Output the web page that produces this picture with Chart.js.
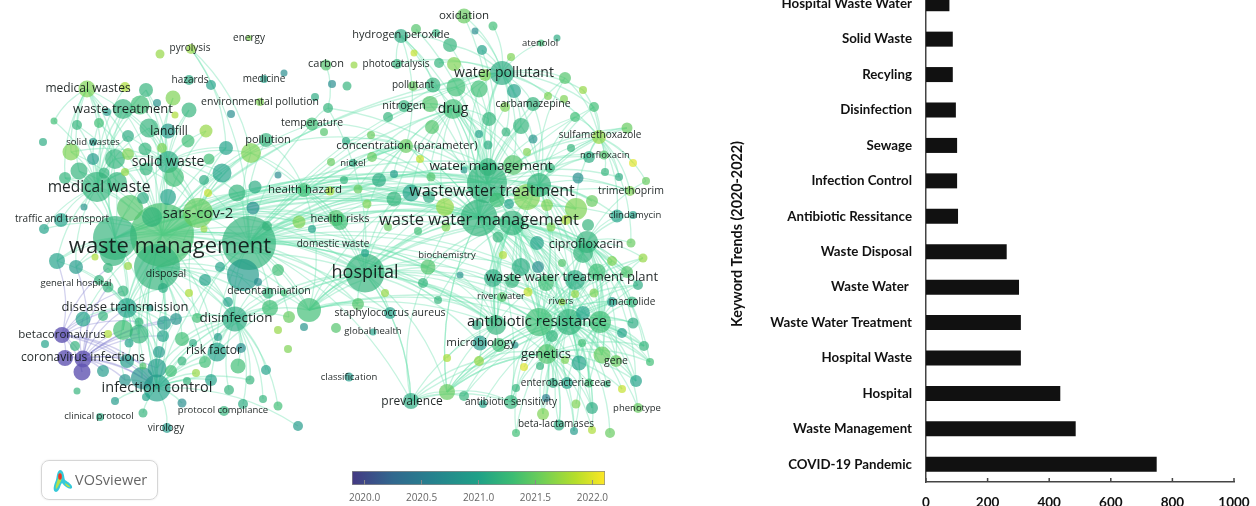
<!DOCTYPE html>
<html>
<head>
<meta charset="utf-8">
<title>Keyword map and keyword trends</title>
<script src="https://cdn.jsdelivr.net/npm/chart.js@4/dist/chart.umd.min.js"></script>
<style>
  html, body { margin: 0; padding: 0; width: 1256px; height: 506px; overflow: hidden; background: #fff; }
  canvas { position: absolute; filter: blur(0.55px); }
  #networkChart { left: 0; top: 0; }
  #scaleChart { left: 340px; top: 460px; }
  #trendChart { left: 720px; top: -30px; }
  #logo {
    position: absolute; left: 41px; top: 460px; width: 115px; height: 38px;
    border: 1px solid #d6d6d6; border-radius: 8px; box-shadow: 0 0 2px #e4e4e4;
    font: 14.5px "Open Sans", sans-serif; color: #666; line-height: 38px; text-indent: 33px;
    filter: blur(0.3px);
  }
  #logo svg { position: absolute; left: 10px; top: 8px; }
</style>
</head>
<body>
<canvas id="networkChart" width="680" height="506"></canvas>
<canvas id="scaleChart" width="280" height="46"></canvas>
<canvas id="trendChart" width="536" height="536"></canvas>
<div id="logo">
  <svg width="22" height="24" viewBox="0 0 22 24">
    <path d="M8 1 C12 1 12 8 13 11 C16 13 21 16 20 19 C18 21 13 18 10 14 C8 16 8 22 4 23 C0 22 2 16 4 11 C5 7 5 2 8 1Z" fill="#36c9d8"/>
    <path d="M8 4 C10 4 10 9 9 12 C7 15 6 19 4 20 C3 18 5 13 6 10 C6 7 7 5 8 4Z M13 14 C15 15 18 17 18 18 C16 19 13 16 13 14Z" fill="#b6e04a"/>
    <ellipse cx="8" cy="7.5" rx="1.8" ry="3.2" fill="#e8312a"/>
  </svg>
  VOSviewer
</div>

<script>
// Bar chart values, top to bottom
const trendLabels = ['Hospital Waste Water', 'Solid Waste', 'Recyling', 'Disinfection', 'Sewage', 'Infection Control',
  'Antibiotic Ressitance', 'Waste Disposal', 'Waste Water ', 'Waste Water Treatment', 'Hospital Waste', 'Hospital',
  'Waste Management', 'COVID-19 Pandemic'];
const trendValues = [76, 87, 87, 97, 101, 101, 104, 262, 302, 308, 308, 436, 486, 749];
const trendTicks = [0, 200, 400, 600, 800, 1000];
const trendAxisTitle = 'Keyword Trends (2020-2022)';

// Colour scale under the map
const scaleTicks = [2020, 2020.5, 2021, 2021.5, 2022];
const scaleMin = 2019.89;
const scaleMax = 2022.11;
const scaleStopYears = [2019.89, 2020.25, 2020.6, 2021, 2021.3, 2021.55, 2021.85, 2022.11];
const scaleStopColours = ['68,57,131', '49,104,142', '38,130,142', '31,161,135', '60,188,115', '110,206,88', '181,222,43', '253,231,37'];
const earlyNodeColour = 'rgba(96,84,178,0.8)';

// Map nodes: [x, y, weight, average year]
const nodesTopLeft = [
  [160,54,4.5,2021.5],[191,49,5,2021.5],[249,38,3,2021.4],[189,80,5,2020.9],[211,85,5,2020.8],[264,79,4,2020.8],
  [284,73,3.5,2020.5],[87,89,8.5,2021.4],[125,87,5,2021.6],[146,90,7,2021],[173,98,7.5,2021.4],[157,103,4,2020.6],
  [123,109,10,2021],[140,105,9.5,2021.1],[107,112,4,2020.7],[189,110,7.5,2021],[175,115,3.5,2021.6],[260,102,4,2021.4],
  [231,114,4,2020.5],[326,65,5.5,2021.2],[332,84,4,2020.5],[315,97,4,2020.9],[328,108,5,2021],[312,124,6.5,2021.1],
  [324,132,4,2021.2],[54,121,3.5,2021.1],[77,125,5,2021],[99,123,5,2021.1],[149,128,9.5,2021],[168,131,7.5,2020.7],
  [206,131,6.5,2021.5],[128,136,6,2020.9],[43,142,4,2020.9],[93,142,4,2020.7],[188,141,6.5,2021.1],[266,140,7,2021],
  [226,148,7,2020.8],[145,149,6.5,2021],[162,148,5,2021.4],[71,152,8.5,2021.4],[93,159,6,2020.7],[115,159,10,2021],
  [128,154,6,2021.4],[251,153,10,2021.4],[168,162,11,2020.9],[209,159,5.5,2021.1],[331,162,4,2021.3],[79,171,8.5,2021],
  [146,169,6.5,2021],[125,172,4,2021.5],[65,178,6,2021],[104,173,5.5,2021],[222,173,9.5,2020.8],[174,177,10,2021.1],
  [204,180,5,2020.9],[278,175,3.5,2020.5],[97,187,15,2021],[117,182,10,2021],[255,187,6.5,2020.9],[237,193,8.5,2021],
  [208,193,4,2021.7],[143,198,6,2020.9],[168,197,8,2020.8],[304,190,7,2021.1],[330,191,4.5,2021.6],[130,208,13,2021.2],
  [84,207,3.5,2020.6],[253,208,6.5,2020.5],[198,213,15,2021.3],[152,217,10,2021],[61,220,7,2020.8],
  [44,229,5,2020.8],[299,222,6.5,2021.4],[336,218,8,2021.2],[312,229,4,2020.8],[204,229,3.5,2021.5],[267,226,5,2021]
];
const nodesTopRight = [
  [464,16,7.5,2021.3],[416,29,5,2021.2],[436,33,4,2021],[401,36,7,2020.9],[475,31,3.5,2020.5],[493,26,4.5,2021.1],
  [450,45,7,2021],[482,50,5,2020.8],[557,38,3.5,2020.9],[541,43,3.5,2021.1],[414,53,3.5,2021.7],[511,57,4,2021.4],
  [354,65,3.5,2021.5],[397,64,5,2021],[439,63,5,2021],[454,64,7,2021.4],[502,73,12,2020.9],[485,75,6,2021.4],
  [565,78,6,2021.2],[514,91,7,2020.8],[583,90,4,2021.5],[347,86,4.5,2021],[433,85,7.5,2021],[413,86,5,2021.3],
  [456,87,9.5,2021.1],[479,89,8.5,2021.1],[548,96,4,2021.4],[564,99,4,2021.4],[430,104,8,2021.2],[404,106,6,2021],
  [453,109,10,2021.1],[533,104,7,2021],[505,107,5,2021.4],[594,107,5,2021.1],[388,117,5,2021],[489,119,7,2021],
  [575,117,5,2021.1],[432,127,7,2021.2],[521,126,8,2021],[627,128,5.5,2021.3],[371,135,4,2021.3],[479,134,4,2020.8],
  [506,132,4.5,2021],[599,137,7,2021.5],[533,139,4.5,2020.6],[346,141,4,2020.9],[406,146,7,2021.3],[488,145,4.5,2020.9],
  [571,148,4,2021],[372,157,5,2021.3],[420,159,4,2021.7],[353,163,4,2020.9],[527,152,4,2021.4],[589,157,6,2020.9],
  [633,163,4,2021.8],[604,155,4.5,2021.2],[513,165,10,2021.2],[488,167,9,2021],[550,168,5,2021],[431,177,4.5,2021.2],
  [464,170,3.5,2020.7],[394,174,4,2020.7],[605,172,4,2021],[619,177,4,2020.9],[578,178,5.5,2020.5],[646,181,4,2021.3],
  [379,180,7,2020.9],[344,180,4,2021],[358,189,4.5,2021.3],[487,183,20,2021],[539,185,12,2021],[630,191,5,2021.4],
  [411,193,8.5,2020.8],[394,199,7.5,2021],[429,197,6,2020.9],[527,197,13,2021.4],[497,200,7.5,2021.1],[592,201,6,2021.3],
  [445,207,9,2021.5],[367,204,4.5,2021.4],[509,204,5,2020.8],[547,205,6,2021.4],[576,209,11,2021.4],[617,216,6.5,2020.8],
  [633,215,4,2020.8],[479,218,18.5,2021],[512,223,12.5,2021],[566,220,5,2021.6],[588,225,6,2021],[388,227,4,2021.3],
  [340,222,8,2021.1],[446,227,4.5,2021.4],[551,227,4.5,2021.4],[418,231,4,2021.1],[498,237,5.5,2021],[537,243,7,2020.8],
  [587,242,11,2021],[631,243,4.5,2021.3]
];
const nodesBottomLeft = [
  [162,235,32,2021.15],[115,238,22,2021],[249,243,27,2021],[157,267,23,2021],[57,261,8,2020.8],[76,267,7,2020.7],
  [95,257,3.5,2021.6],[113,253,13,2021],[128,266,4,2021.5],[108,268,5,2021],[220,267,5,2020.8],[205,280,6,2020.8],
  [278,270,6,2021.1],[243,275,16,2020.7],[258,282,4,2020.5],[108,287,5.5,2021],[99,280,5,2021],[123,291,5.5,2021],
  [163,288,5,2020.9],[189,293,4,2021.6],[228,302,5,2020.8],[268,293,5.5,2021],[284,293,3.5,2021.1],[270,308,8,2021.1],
  [309,310,12,2021.1],[289,317,6,2021.3],[304,327,4,2020.6],[278,330,4,2021.5],[336,328,5,2021.2],[127,308,10,2020.8],
  [83,319,7.5,2020.8],[103,316,5,2021],[150,308,3.5,2020.7],[139,322,4.5,2021],[164,323,7,2020.7],[176,319,6,2020.6],
  [197,318,5,2021.1],[235,319,12.5,2020.9],[62,335,8,2019.9],[123,330,10,2021.1],[139,334,9.5,2021],[108,334,4,2021.6],
  [163,336,6,2020.8],[182,339,7,2021.1],[193,343,4,2020.9],[218,337,4,2020.7],[45,344,4,2020.8],[75,346,5,2021],
  [129,343,4.5,2020.8],[241,348,5,2020.5],[217,352,9.5,2020.8],[159,352,6,2020.7],[182,361,4.5,2021],[205,362,6,2021.1],
  [65,358,8,2019.9],[83,359,8.5,2019.9],[82,372,8.5,2019.95],[127,361,7,2020.7],[143,366,3.5,2021.2],[238,366,7.5,2021.1],
  [103,371,6,2020.7],[157,368,9.5,2020.7],[171,371,6,2021.1],[196,373,4,2021.5],[266,370,5,2020.8],[125,380,6,2020.6],
  [142,378,11,2020.6],[157,388,13.5,2020.8],[187,381,4,2021],[211,380,6,2020.8],[250,380,4.5,2021],[77,391,3.5,2021],
  [229,390,5,2021],[146,397,4,2020.8],[115,401,4,2020.7],[182,403,4.5,2020.5],[243,404,5,2020.9],[263,399,4,2021],
  [278,406,4.5,2021.1],[224,411,5,2021],[143,413,4.5,2021],[100,417,4,2020.9],[167,428,5,2020.7],[298,426,5,2020.7],
  [288,349,4,2021.4]
];
const nodesBottomRight = [
  [365,253,4,2020.8],[365,273,19.5,2021],[428,267,7.5,2021.2],[423,283,5,2021],[460,275,3.5,2020.6],[385,293,4,2021.5],
  [438,300,4,2021],[358,304,6,2021.2],[390,313,6,2020.8],[503,255,4,2021.6],[521,267,9,2020.9],[538,267,6,2020.5],
  [562,263,4,2021.2],[583,253,10,2021],[612,261,5,2021.4],[643,258,4.5,2021.5],[597,272,8.5,2021.1],[627,272,6,2021.2],
  [493,278,9,2020.9],[512,281,7,2021],[546,283,8,2021.1],[575,280,10,2020.9],[638,285,5,2020.9],[528,292,4.5,2021.7],
  [575,294,4,2021.5],[594,293,4.5,2021.4],[502,297,5,2021.2],[562,302,3.5,2021.5],[612,302,5,2020.7],[632,302,5.5,2021],
  [583,313,7,2020.8],[539,322,14,2021.1],[569,322,13,2021],[600,322,11,2021.1],[496,325,10,2021],[477,325,5,2020.9],
  [633,323,5.5,2020.9],[373,332,3.5,2020.8],[622,333,5,2020.8],[552,336,6,2021],[582,343,4,2021.1],[480,343,7.5,2020.7],
  [499,345,7,2021.1],[515,345,3.5,2020.6],[644,346,5,2021],[602,355,8.5,2021.3],[547,354,10,2021.2],[650,362,4,2021.1],
  [579,363,7.5,2020.8],[616,361,6,2021.3],[565,360,4,2021.4],[447,358,4,2021.6],[479,361,5,2021.5],[524,367,4,2021.8],
  [540,366,4,2021],[636,381,6,2020.8],[622,389,4,2021.7],[567,383,6,2020.8],[553,383,5,2020.9],[589,383,4.5,2021.1],
  [607,384,3.5,2021],[516,388,4,2021],[447,392,8,2021.3],[464,396,5,2021],[411,401,8,2020.9],[483,404,4,2020.8],
  [511,402,7,2021],[546,398,4,2020.3],[576,404,4.5,2021.4],[592,408,6,2020.9],[638,408,5,2021.3],[543,414,6,2021.4],
  [559,425,5.5,2020.9],[574,431,4,2020.7],[592,430,4,2021.6],[610,433,5,2021.3],[516,433,4,2021.1],[349,377,4.5,2020.7]
];

// Map links: each group is a hub [x, y, year] and the nodes it reaches
const linksWasteManagement = [[162,235,2021.1], [[87,89],[123,109],[146,90],[173,98],[189,110],[149,128],[206,131],[77,125],[99,123],[71,152],[115,159],[168,162],[251,153],[222,173],[79,171],[65,178],[44,229],[61,220],[57,261],[76,267],[83,319],[127,308],[123,330],[139,334],[235,319],[217,352],[157,388],[299,222],[304,190],[336,218],[340,222],[365,273],[309,310],[270,308],[479,218],[487,183],[539,185],[512,223],[527,197],[411,193],[394,199],[445,207],[428,267],[379,180],[496,325],[539,322],[502,73],[456,87],[266,140],[226,148],[312,124],[358,304],[390,313],[576,209],[513,165]]];
const linksHealthCare = [[249,243,2021.1], [[312,124],[251,153],[266,140],[237,193],[304,190],[336,218],[379,180],[411,193],[479,218],[487,183],[539,185],[527,197],[365,273],[428,267],[309,310],[270,308],[289,317],[235,319],[197,318],[217,352],[157,388],[512,223],[496,325],[569,322],[539,322],[583,253],[445,207],[394,199],[358,304],[438,300],[513,165],[488,167],[406,146],[453,109],[456,87],[502,73],[587,242],[600,322],[521,267],[546,283]]];
const linksHospital = [[365,273,2021.1], [[479,218],[487,183],[512,223],[539,185],[527,197],[411,193],[394,199],[379,180],[428,267],[447,392],[411,401],[496,325],[539,322],[569,322],[600,322],[521,267],[493,278],[480,343],[547,354],[309,310],[235,319],[270,308],[157,388],[217,352],[438,300],[390,313],[358,304],[340,222],[304,190],[251,153]]];
const linksWasteWater = [[479,218,2021.1], [[502,73],[456,87],[479,89],[453,109],[430,104],[489,119],[521,126],[432,127],[533,104],[406,146],[513,165],[488,167],[539,185],[527,197],[445,207],[512,223],[576,209],[599,137],[565,78],[594,107],[589,157],[630,191],[617,216],[587,242],[583,253],[597,272],[627,272],[575,280],[546,283],[521,267],[493,278],[539,322],[569,322],[600,322],[496,325],[547,354],[602,355],[579,363],[447,392],[511,402],[379,180],[340,222],[372,157],[346,141]]];
const linksWastewaterTreatment = [[487,183,2021.1], [[464,16],[416,29],[401,36],[450,45],[482,50],[502,73],[454,64],[433,85],[479,89],[453,109],[505,107],[521,126],[489,119],[506,132],[575,117],[599,137],[627,128],[589,157],[604,155],[619,177],[630,191],[592,201],[576,209],[379,180],[358,189],[336,218],[539,322],[569,322],[583,253],[597,272],[521,267],[575,280],[423,283]]];
const linksWaterPollutant = [[502,73,2021], [[464,16],[493,26],[475,31],[482,50],[450,45],[439,63],[511,57],[541,43],[565,78],[583,90],[514,91],[533,104],[548,96],[479,89],[456,87],[453,109],[521,126],[489,119],[506,132],[599,137],[513,165],[404,106],[397,64],[594,107]]];
const linksAntibiotic = [[569,322,2021.1], [[583,253],[597,272],[627,272],[612,261],[643,258],[638,285],[632,302],[612,302],[633,323],[622,333],[644,346],[650,362],[636,381],[622,389],[602,355],[616,361],[579,363],[567,383],[553,383],[589,383],[607,384],[592,408],[638,408],[559,425],[574,431],[592,430],[610,433],[543,414],[511,402],[516,433],[576,404],[546,398],[483,404],[464,396],[447,392],[479,361],[524,367],[540,366],[546,283],[521,267],[493,278],[587,242],[537,243],[512,281],[575,280]]];
const linksGenetics = [[547,354,2021.2], [[636,381],[622,389],[567,383],[553,383],[589,383],[592,408],[559,425],[574,431],[592,430],[511,402],[543,414],[602,355],[644,346],[650,362],[600,322],[597,272],[612,302],[575,280],[521,267],[479,361],[447,392]]];
const linksSulfa = [[599,137,2021.5], [[627,128],[604,155],[589,157],[633,163],[630,191],[619,177],[605,172],[646,181],[575,117],[594,107],[565,78],[583,90],[539,185],[576,209],[617,216],[631,243]]];
const linksCiprofloxacin = [[587,242,2021], [[633,215],[617,216],[646,181],[631,243],[643,258],[627,272],[612,261],[638,285],[632,302],[633,323],[644,346],[602,355],[616,361],[579,363],[636,381],[650,362],[589,383]]];
const linksCoronavirus = [[83,359,2020.1], [[62,335],[65,358],[82,372],[127,308],[83,319],[103,316],[123,330],[139,334],[127,361],[103,371],[157,368],[142,378],[157,388],[125,380],[76,267],[108,287],[163,336],[176,319],[164,323]]];
const linksBetacoronavirus = [[62,335,2020.1], [[65,358],[82,372],[127,361],[127,308],[83,319],[157,388],[57,261],[108,268],[123,291],[139,322],[143,366]]];
const linksInfectionControl = [[157,388,2020.8], [[167,428],[143,413],[115,401],[146,397],[182,403],[187,381],[125,380],[142,378],[211,380],[196,373],[171,371],[127,361],[159,352],[217,352],[205,362],[235,319],[162,235],[127,308],[298,426],[176,319],[193,343],[250,380]]];
const linksMedicalWaste = [[97,187,2021], [[87,89],[54,121],[77,125],[99,123],[123,109],[140,105],[146,90],[71,152],[115,159],[93,159],[128,136],[149,128],[168,162],[79,171],[65,178],[146,169],[61,220],[44,229],[84,207],[130,208],[115,238],[57,261],[76,267],[125,87]]];
const linksSolidWaste = [[168,162,2021], [[146,90],[173,98],[189,110],[123,109],[140,105],[149,128],[168,131],[206,131],[188,141],[145,149],[115,159],[226,148],[251,153],[222,173],[174,177],[237,193],[198,213],[249,243],[87,89],[71,152]]];
const linksSarsCov = [[198,213,2021.3], [[251,153],[222,173],[226,148],[237,193],[174,177],[146,169],[128,136],[266,140],[304,190],[299,222],[379,180],[309,310],[235,319],[127,308],[365,273],[479,218],[157,388],[197,318]]];
const linksPrevalence = [[411,401,2020.9], [[365,273],[447,392],[423,283],[479,361],[547,354],[511,402],[249,243],[464,396]]];
const linksOutliers = [[447,392,2021.3], [[539,322],[600,322],[569,322],[479,218],[547,354],[511,402]]];
const linksPyrolysis = [[191,49,2021.5], [[251,153],[226,148],[249,243]]];
const linksCarbon = [[328,108,2021], [[326,65],[312,124],[487,183],[365,273]]];
const linksPeroxide = [[401,36,2020.9], [[406,146],[450,45],[433,85],[397,64],[479,218]]];
const linksStaph = [[309,310,2021.1], [[479,218],[539,322],[487,183],[365,273],[496,325],[569,322],[512,223],[428,267],[390,313],[358,304],[304,190],[411,193]]];
const linksMedicalCluster = [[115,238,2021], [[162,235],[249,243],[365,273],[479,218],[487,183],[512,223],[539,185],[411,193],[336,218],[304,190],[299,222],[97,187],[130,208],[157,388],[127,308],[235,319],[123,330],[57,261],[76,267],[87,89],[123,109],[168,162],[115,159],[79,171],[65,178]]];
const linksDisposal = [[157,267,2021], [[127,308],[123,330],[139,334],[164,323],[176,319],[235,319],[217,352],[157,368],[142,378],[157,388],[365,273],[309,310],[270,308],[479,218],[249,243],[205,280],[228,302],[243,275],[163,288],[182,339],[205,362]]];
const linksTreatmentEast = [[539,185,2021], [[599,137],[589,157],[575,117],[521,126],[533,104],[565,78],[594,107],[627,128],[630,191],[576,209],[592,201],[617,216],[583,253],[597,272],[539,322],[569,322],[600,322],[547,354],[521,267],[546,283],[575,280],[493,278],[512,281],[502,73],[456,87],[453,109]]];
const linksPlant = [[512,223,2021], [[521,267],[538,267],[546,283],[575,280],[493,278],[512,281],[496,325],[539,322],[569,322],[600,322],[480,343],[499,345],[547,354],[579,363],[602,355],[428,267],[423,283],[438,300],[502,297],[528,292],[562,302],[583,313],[597,272],[627,272],[638,285],[583,253],[587,242]]];
const linksResistanceWest = [[539,322,2021.1], [[447,392],[464,396],[511,402],[546,398],[543,414],[559,425],[516,433],[574,431],[592,408],[636,381],[583,253],[597,272],[546,283],[575,280],[493,278],[521,267],[612,261],[627,272],[643,258],[638,285],[632,302],[612,302],[633,323],[644,346],[650,362],[622,333]]];
const linksResistanceEast = [[600,322,2021.1], [[636,381],[650,362],[644,346],[622,333],[633,323],[632,302],[638,285],[627,272],[643,258],[612,261],[597,272],[575,280],[546,283],[583,253],[587,242],[567,383],[592,408],[589,383],[638,408],[616,361],[602,355],[579,363]]];
const linksMicrobes = [[496,325,2021], [[447,392],[411,401],[447,358],[479,361],[438,300],[423,283],[428,267],[460,275],[503,255],[493,278],[521,267],[498,237],[512,223],[546,283]]];
const linksDrug = [[453,109,2021.1], [[430,104],[404,106],[388,117],[432,127],[406,146],[372,157],[379,180],[394,199],[411,193],[429,197],[445,207],[479,218],[489,119],[479,134],[488,145],[513,165],[488,167]]];
const linksConcentration = [[406,146,2021.3], [[371,135],[346,141],[353,163],[372,157],[420,159],[431,177],[394,174],[379,180],[344,180],[358,189],[488,167],[479,218],[487,183],[312,124],[251,153],[304,190],[249,243]]];
const linksDisinfection = [[235,319,2020.9], [[205,280],[228,302],[217,352],[205,362],[238,366],[250,380],[229,390],[263,399],[278,406],[243,404],[266,370],[241,348],[197,318],[176,319],[182,339],[171,371],[157,368],[211,380],[270,308],[309,310],[289,317],[268,293],[278,270],[243,275]]];
const linksTransmission = [[127,308,2020.8], [[83,319],[103,316],[108,287],[99,280],[123,291],[163,288],[150,308],[164,323],[176,319],[139,322],[123,330],[139,334],[163,336],[129,343],[127,361],[159,352],[157,368],[142,378],[125,380],[76,267],[57,261],[108,268]]];
const linksHealthHazard = [[304,190,2021.1], [[266,140],[251,153],[237,193],[336,218],[340,222],[379,180],[411,193],[394,199],[487,183],[479,218]]];
const linksMedicalWastes = [[87,89,2021.4], [[71,152],[77,125],[99,123],[65,178],[79,171],[115,159],[54,121]]];

// Map labels: [text, centre x, centre y, font size]
const labelsLeft = [
  ['waste management',170,247,22],['medical waste',99,188,15.5],['sars-cov-2',198,214,15],['solid waste',168,162,14],
  ['waste treatment',123,109,13],['medical wastes',88,89,12],['landfill',169,132,12],['solid wastes',93,142,9.5],
  ['pollution',268,140,11],['hazards',190,80,10],['energy',249,38,10],['pyrolysis',190,48,10],['medicine',264,79,10],
  ['environmental pollution',260,102,10.5],['carbon',326,64,11],['temperature',312,123,10.5],['traffic and transport',62,219,10],
  ['health hazard',305,190,11.5],['health risks',340,219,11],['domestic waste',333,244,10],['disposal',166,274,10.5],
  ['general hospital',76,283,9.5],['decontamination',269,291,10.5],['disease transmission',125,307,13],['disinfection',236,318,13.5],
  ['betacoronavirus',62,335,11.5],['coronavirus infections',83,358,12],['risk factor',214,351,12],['infection control',157,388,14.5],
  ['clinical protocol',99,416,9.5],['protocol compliance',223,410,9.5],['virology',166,428,10]
];
const labelsRight = [
  ['hospital',365,273,18],['staphylococcus aureus',390,313,10.5],['global health',373,331,9.5],['classification',349,377,9.5],
  ['biochemistry',447,255,9.5],['concentration (parameter)',407,146,11.5],['nickel',353,163,9.5],['oxidation',464,16,11.5],
  ['hydrogen peroxide',401,35,11],['atenolol',540,43,9.5],['photocatalysis',396,64,10],['pollutant',413,85,10],
  ['water pollutant',504,73,14],['nitrogen',404,106,11],['drug',453,109,14],['carbamazepine',533,104,10.5],
  ['sulfamethoxazole',600,135,10],['norfloxacin',605,155,9.5],['water management',491,166,13.5],['wastewater treatment',492,191,16],
  ['waste water management',479,220,16.5],['trimethoprim',631,191,10.5],['clindamycin',635,215,9.5],['ciprofloxacin',586,244,12.5],
  ['waste water treatment plant',572,277,13],['river water',501,296,9.5],['rivers',561,301,9.5],['macrolide',632,302,10],
  ['antibiotic resistance',537,322,15],['microbiology',481,343,11.5],['genetics',546,354,13],['gene',616,361,10.5],
  ['enterobacteriaceae',566,383,10],['prevalence',412,402,12],['antibiotic sensitivity',511,402,10],['phenotype',637,408,9.5],
  ['beta-lactamases',556,424,10]
];

/**
 * Colour of a year on the map's colour scale
 */
function colourForYear(year, alpha) {
  let i = scaleStopYears.findIndex(stop => stop >= year);
  if (i <= 0) i = 1;
  const t = Math.min(1, (year - scaleStopYears[i - 1]) / (scaleStopYears[i] - scaleStopYears[i - 1]));
  const a = scaleStopColours[i - 1].split(',').map(Number);
  const b = scaleStopColours[i].split(',').map(Number);
  const rgb = a.map((v, k) => Math.round(v + (b[k] - v) * t));
  return `rgba(${rgb.join(',')},${alpha})`;
}

// Curved links, drawn under the nodes
const linkPlugin = {
  id: 'networkLinks',
  beforeDatasetsDraw(chart) {
    const { ctx, scales } = chart;
    const groups = [linksWasteManagement, linksHealthCare, linksHospital, linksWasteWater, linksWastewaterTreatment,
      linksWaterPollutant, linksAntibiotic, linksGenetics, linksSulfa, linksCiprofloxacin, linksCoronavirus,
      linksBetacoronavirus, linksInfectionControl, linksMedicalWaste, linksSolidWaste, linksSarsCov, linksPrevalence,
      linksOutliers, linksPyrolysis, linksCarbon, linksPeroxide, linksStaph, linksMedicalCluster, linksDisposal,
      linksTreatmentEast, linksPlant, linksResistanceWest, linksResistanceEast, linksMicrobes, linksDrug,
      linksConcentration, linksDisinfection, linksTransmission, linksHealthHazard, linksMedicalWastes];
    ctx.save();
    ctx.lineWidth = 1.3;
    groups.forEach(([hub, targets]) => {
      const purple = hub[2] < 2020.5;
      ctx.strokeStyle = purple ? 'rgba(130,125,205,0.35)' : 'rgba(110,225,175,0.4)';
      targets.forEach(target => {
        let x1 = scales.x.getPixelForValue(hub[0]);
        let y1 = scales.y.getPixelForValue(hub[1]);
        let x2 = scales.x.getPixelForValue(target[0]);
        let y2 = scales.y.getPixelForValue(target[1]);
        if (x2 < x1) [x1, y1, x2, y2] = [x2, y2, x1, y1];
        const cx = (x1 + x2) / 2 + (y2 - y1) * 0.16;
        const cy = (y1 + y2) / 2 - (x2 - x1) * 0.16;
        ctx.beginPath();
        ctx.moveTo(x1, y1);
        ctx.quadraticCurveTo(cx, cy, x2, y2);
        ctx.stroke();
      });
    });
    ctx.restore();
  }
};

// Keyword labels on top of the nodes
const labelPlugin = {
  id: 'networkLabels',
  afterDatasetsDraw(chart) {
    const { ctx, scales } = chart;
    ctx.save();
    ctx.textAlign = 'center';
    ctx.textBaseline = 'middle';
    ctx.fillStyle = 'rgba(15,22,22,0.92)';
    labelsLeft.concat(labelsRight).forEach(([text, x, y, size]) => {
      ctx.font = `${size}px "Open Sans", sans-serif`;
      ctx.fillText(text, scales.x.getPixelForValue(x), scales.y.getPixelForValue(y));
    });
    ctx.restore();
  }
};

// Short tick marks pointing into the plot
const inwardTicksPlugin = {
  id: 'inwardTicks',
  afterDatasetsDraw(chart, args, opts) {
    const { ctx, scales, chartArea } = chart;
    ctx.save();
    ctx.strokeStyle = opts.color;
    ctx.lineWidth = opts.width;
    scales.x.ticks.forEach(tick => {
      const x = scales.x.getPixelForValue(tick.value);
      ctx.beginPath();
      ctx.moveTo(x, chartArea.bottom);
      ctx.lineTo(x, chartArea.bottom - opts.length);
      ctx.stroke();
    });
    ctx.restore();
  }
};

function initNetworkChart() {
  const nodes = nodesTopLeft.concat(nodesTopRight, nodesBottomLeft, nodesBottomRight)
    .sort((a, b) => b[2] - a[2]);
  new Chart(document.getElementById('networkChart'), {
    type: 'bubble',
    data: {
      datasets: [{
        data: nodes.map(n => ({ x: n[0], y: n[1], r: n[2] })),
        // Marks sit a little lighter and greener than the bar below them
        backgroundColor: nodes.map(n => (n[3] < 2020 ? earlyNodeColour : colourForYear(n[3] + 0.2, 0.68))),
        borderWidth: 0
      }]
    },
    options: {
      responsive: false,
      animation: false,
      layout: { padding: 0, autoPadding: false },
      scales: {
        x: { type: 'linear', min: 0, max: 680, display: false },
        y: { type: 'linear', min: 0, max: 506, reverse: true, display: false }
      },
      plugins: { legend: { display: false }, tooltip: { enabled: false } }
    },
    plugins: [linkPlugin, labelPlugin]
  });
}

function initScaleChart() {
  new Chart(document.getElementById('scaleChart'), {
    type: 'bar',
    data: {
      labels: ['Year'],
      datasets: [{
        data: [[scaleMin, scaleMax]],
        backgroundColor(context) {
          const { ctx, chartArea } = context.chart;
          if (!chartArea) return '#1fa187';
          const gradient = ctx.createLinearGradient(chartArea.left, 0, chartArea.right, 0);
          scaleStopYears.forEach((year, i) => {
            gradient.addColorStop((year - scaleMin) / (scaleMax - scaleMin), `rgb(${scaleStopColours[i]})`);
          });
          return gradient;
        },
        borderColor: '#8a8a8a',
        borderWidth: 1,
        borderSkipped: false,
        barPercentage: 1,
        categoryPercentage: 1
      }]
    },
    options: {
      indexAxis: 'y',
      responsive: false,
      animation: false,
      layout: { padding: { left: 12, right: 15, top: 11, bottom: 0 } },
      scales: {
        x: {
          type: 'linear',
          min: scaleMin,
          max: scaleMax,
          afterBuildTicks(axis) { axis.ticks = scaleTicks.map(v => ({ value: v })); },
          afterFit(axis) { axis.height = 21; },
          grid: { display: false, drawTicks: false },
          border: { display: false },
          ticks: {
            autoSkip: false,
            maxRotation: 0,
            padding: 7,
            color: '#666',
            font: { family: '"Open Sans", sans-serif', size: 10 },
            callback: value => Number(value).toFixed(1)
          }
        },
        y: { display: false }
      },
      plugins: {
        legend: { display: false },
        tooltip: { enabled: false },
        inwardTicks: { color: '#8a8a8a', width: 1, length: 5 }
      }
    },
    plugins: [inwardTicksPlugin]
  });
}

function initTrendChart() {
  new Chart(document.getElementById('trendChart'), {
    type: 'bar',
    data: {
      labels: trendLabels,
      datasets: [{
        data: trendValues,
        backgroundColor: '#111111',
        barPercentage: 0.424,
        categoryPercentage: 1
      }]
    },
    options: {
      indexAxis: 'y',
      responsive: false,
      animation: false,
      layout: { padding: { top: 16, right: 22, left: 0, bottom: 0 } },
      scales: {
        x: {
          type: 'linear',
          min: 0,
          max: 1000,
          afterBuildTicks(axis) { axis.ticks = trendTicks.map(v => ({ value: v })); },
          afterFit(axis) { axis.height = 24; axis.paddingLeft = 0; axis.paddingRight = 0; },
          grid: { display: false, drawTicks: false },
          border: { display: true, color: '#444', width: 1.5 },
          ticks: {
            maxRotation: 0,
            padding: 13,
            color: '#111',
            font: { family: 'Lato, sans-serif', size: 13.5, weight: 'bold' },
            callback: value => String(value)
          }
        },
        y: {
          afterFit(axis) { axis.width = 206; axis.paddingTop = 0; axis.paddingBottom = 0; },
          grid: { display: false, drawTicks: false },
          border: { display: true, color: '#444', width: 1.5 },
          title: {
            display: true,
            text: trendAxisTitle,
            color: '#111',
            padding: { top: 9, bottom: 0 },
            font: { family: 'Lato, sans-serif', size: 14.3, weight: 'bold' }
          },
          ticks: {
            padding: 14,
            color: '#111',
            font: { family: 'Lato, sans-serif', size: 13.3, weight: 'bold' }
          }
        }
      },
      plugins: {
        legend: { display: false },
        tooltip: { enabled: false },
        inwardTicks: { color: '#444', width: 1.5, length: 4 }
      }
    },
    plugins: [inwardTicksPlugin]
  });
}

document.addEventListener('DOMContentLoaded', function() {
  initNetworkChart();
  initScaleChart();
  initTrendChart();
});
</script>
</body>
</html>
